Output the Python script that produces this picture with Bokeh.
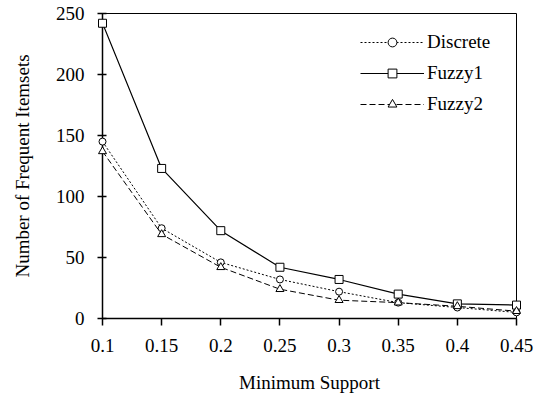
from bokeh.plotting import figure
from bokeh.embed import file_html
from bokeh.resources import INLINE
from bokeh.models import Range1d, FixedTicker, Legend, LegendItem

support = [0.1, 0.15, 0.2, 0.25, 0.3, 0.35, 0.4, 0.45]
discrete = [145, 74, 46, 32, 22, 13, 9, 5]
fuzzy1 = [242, 123, 72, 42, 32, 20, 12, 11]
fuzzy2 = [137, 69, 42, 24, 15, 13, 10, 6]
x_ticks = [0.1, 0.15, 0.2, 0.25, 0.3, 0.35, 0.4, 0.45]
y_ticks = [0, 50, 100, 150, 200, 250]

FONT = "'Liberation Serif', 'Times New Roman', serif"
FS = "19px"

p = figure(width=534, height=402, output_backend="svg", toolbar_location=None,
           x_range=Range1d(0.1, 0.45), y_range=Range1d(0, 250),
           min_border_left=102, min_border_right=18, min_border_top=13, min_border_bottom=84)
p.frame_width = 414
p.frame_height = 305
p.background_fill_color = "white"
p.border_fill_color = "white"
p.outline_line_color = "black"
p.outline_line_width = 1
p.grid.visible = False

p.xaxis.ticker = FixedTicker(ticks=x_ticks)
p.yaxis.ticker = FixedTicker(ticks=y_ticks)
p.xaxis.major_label_overrides = {0.1: "0.1", 0.15: "0.15", 0.2: "0.2", 0.25: "0.25",
                                 0.3: "0.3", 0.35: "0.35", 0.4: "0.4", 0.45: "0.45"}
for ax in (p.xaxis[0], p.yaxis[0]):
    ax.axis_line_color = "black"
    ax.axis_line_width = 1.5
    ax.major_tick_line_color = "black"
    ax.major_tick_line_width = 1.5
    ax.minor_tick_line_color = None
    ax.major_label_text_font = FONT
    ax.major_label_text_font_size = FS
    ax.major_label_text_color = "black"
    ax.axis_label_text_font = FONT
    ax.axis_label_text_font_size = FS
    ax.axis_label_text_font_style = "normal"
    ax.axis_label_text_color = "black"

p.xaxis.major_tick_out = 7
p.xaxis.major_tick_in = 0
p.xaxis.major_label_standoff = 13
p.xaxis.axis_label = "Minimum Support"
p.xaxis.axis_label_standoff = 17
p.yaxis.major_tick_out = 5
p.yaxis.major_tick_in = 4
p.yaxis.major_label_standoff = 13
p.yaxis.axis_label = "Number of Frequent Itemsets"
p.yaxis.axis_label_standoff = 20

l1 = p.line(support, discrete, line_color="black", line_width=1, line_dash="2 2")
m1 = p.scatter(support, discrete, marker="circle", size=7, fill_color="white", line_color="black", level="overlay")
l2 = p.line(support, fuzzy1, line_color="black", line_width=1.2)
m2 = p.scatter(support, fuzzy1, marker="square", size=8, fill_color="white", line_color="black", level="overlay")
l3 = p.line(support, fuzzy2, line_color="black", line_width=1, line_dash="6 3")
m3 = p.scatter(support, fuzzy2, marker="triangle", size=8, fill_color="white", line_color="black", level="overlay")

legend = Legend(items=[
    LegendItem(label="Discrete", renderers=[l1, m1]),
    LegendItem(label="Fuzzy1", renderers=[l2, m2]),
    LegendItem(label="Fuzzy2", renderers=[l3, m3]),
], location=(258, 203))
legend.border_line_color = None
legend.background_fill_alpha = 0
legend.glyph_width = 64
legend.glyph_height = 22
legend.label_height = 22
legend.spacing = 9
legend.padding = 0
legend.margin = 0
legend.label_standoff = 3
legend.label_text_font = FONT
legend.label_text_font_size = FS
legend.label_text_color = "black"
p.add_layout(legend, "center")

open("out.html", "w").write(file_html(p, INLINE))
